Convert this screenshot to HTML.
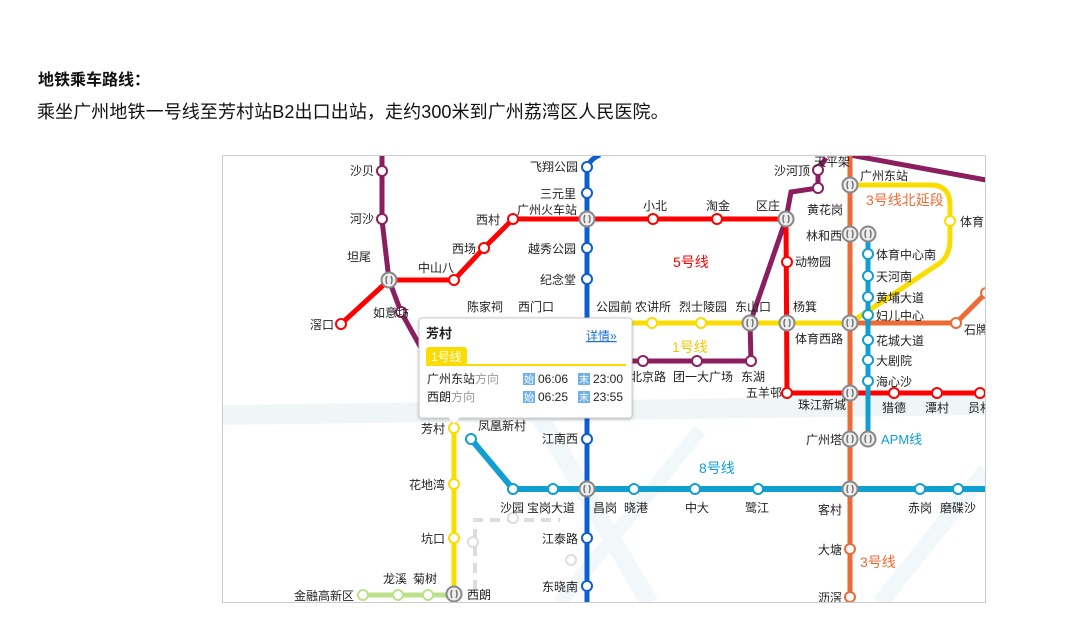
<!DOCTYPE html>
<html><head><meta charset="utf-8"><style>
html,body{margin:0;padding:0;background:#fff;width:1084px;height:643px;overflow:hidden}
body{font-family:"Liberation Sans","Noto Sans CJK SC",sans-serif;color:#111}
.t1{position:absolute;left:38px;top:66px;font-size:16px;font-weight:bold}
.t2{position:absolute;left:37px;top:98px;font-size:18px;white-space:nowrap;letter-spacing:0.1px}
svg{position:absolute;left:0;top:0}
svg text{font-family:"Liberation Sans","Noto Sans CJK SC",sans-serif;font-size:12px;fill:#222}
</style></head><body>
<div class="t1">地铁乘车路线：</div>
<div class="t2">乘坐广州地铁一号线至芳村站B2出口出站，走约300米到广州荔湾区人民医院。</div>
<svg width="1084" height="643" viewBox="0 0 1084 643">
<defs>
<clipPath id="c"><rect x="223" y="156" width="762" height="446"/></clipPath>
<filter id="sh" x="-10%" y="-10%" width="120%" height="130%"><feDropShadow dx="0" dy="1" stdDeviation="1.5" flood-color="#000" flood-opacity="0.25"/></filter>
<g id="ic"><circle r="7.5" fill="#eee" stroke="#888" stroke-width="2"/><path d="M-2,-4 q-2,4 0,8 M2,-4 q2,4 0,8" stroke="#777" stroke-width="1.5" fill="none"/></g>
</defs>
<g clip-path="url(#c)">
<path d="M223,415 L986,405" stroke="#f0f6f8" stroke-width="20" fill="none"/>
<path d="M530,400 L650,603" stroke="#f2f7f9" stroke-width="18" fill="none"/>
<path d="M700,430 L560,603" stroke="#f2f7f9" stroke-width="14" fill="none"/>
<path d="M880,603 L986,470" stroke="#f2f7f9" stroke-width="16" fill="none"/>
<path d="M475,590 L475,520 L560,520" stroke="#ddd" stroke-width="4" stroke-dasharray="10,7" fill="none"/>
<g fill="#fff" stroke="#ddd" stroke-width="2"><circle cx="513" cy="518" r="5"/><circle cx="473" cy="542" r="5"/><circle cx="571" cy="560" r="5"/></g>
<path d="M382,155 L382,220 L389,280 L401,312 L425,355" stroke="#8b1e5e" stroke-width="5" fill="none"/>
<path d="M620,361 L751,361 L750,323 L786,219 L791,192 L818,188 L818,170 L826,158" stroke="#8b1e5e" stroke-width="5" fill="none"/>
<path d="M850,155 L986,180" stroke="#8b1e5e" stroke-width="5" fill="none"/>
<path d="M600,155 Q588,160 587,170 L587,603" stroke="#0d5fd0" stroke-width="5" fill="none"/>
<path d="M341,324 L389,280 L454,280 L484,248 L513,219 L786,219 L787,393 L986,393" stroke="#f00" stroke-width="5" fill="none"/>
<path d="M850,155 L850,603" stroke="#ee6a35" stroke-width="5" fill="none"/>
<path d="M850,323 L956,323 L986,293" stroke="#ee6a35" stroke-width="5" fill="none"/>
<path d="M620,323 L850,323 L940,263 Q950,255 950,240 L950,205 Q950,185 930,185 L850,185" stroke="#fbdc00" stroke-width="5" fill="none"/>
<path d="M454,418 L454,594" stroke="#fbdc00" stroke-width="5" fill="none"/>
<path d="M868,234 L868,439" stroke="#109fd0" stroke-width="5" fill="none"/>
<path d="M471,439 L513,489 L986,489" stroke="#109fd0" stroke-width="6" fill="none"/>
<path d="M363,595 L454,595" stroke="#bde08a" stroke-width="5" fill="none"/>
<g fill="#fff" stroke-width="2">
<g stroke="#8b1e5e"><circle cx="382" cy="171" r="5"/><circle cx="382" cy="219" r="5"/><circle cx="401" cy="312" r="5"/><circle cx="643" cy="361" r="5"/><circle cx="697" cy="361" r="5"/><circle cx="751" cy="361" r="5"/><circle cx="818" cy="188" r="5"/><circle cx="818" cy="170" r="5"/></g>
<g stroke="#0d5fd0"><circle cx="587" cy="167" r="5"/><circle cx="587" cy="193" r="5"/><circle cx="587" cy="248" r="5"/><circle cx="587" cy="279" r="5"/><circle cx="587" cy="439" r="5"/><circle cx="587" cy="538" r="5"/><circle cx="587" cy="586" r="5"/></g>
<g stroke="#f00"><circle cx="341" cy="324" r="5"/><circle cx="454" cy="280" r="5"/><circle cx="484" cy="248" r="5"/><circle cx="513" cy="219" r="5"/><circle cx="653" cy="219" r="5"/><circle cx="717" cy="219" r="5"/><circle cx="787" cy="262" r="5"/><circle cx="787" cy="393" r="5"/><circle cx="894" cy="393" r="5"/><circle cx="937" cy="393" r="5"/><circle cx="980" cy="393" r="5"/></g>
<g stroke="#ee6a35"><circle cx="956" cy="323" r="5"/><circle cx="986" cy="293" r="5"/><circle cx="850" cy="549" r="5"/><circle cx="850" cy="597" r="5"/></g>
<g stroke="#fbdc00"><circle cx="652" cy="323" r="5"/><circle cx="701" cy="323" r="5"/><circle cx="950" cy="221" r="5"/><circle cx="454" cy="428" r="5"/><circle cx="454" cy="484" r="5"/><circle cx="454" cy="538" r="5"/></g>
<g stroke="#109fd0"><circle cx="868" cy="254" r="5"/><circle cx="868" cy="276" r="5"/><circle cx="868" cy="297" r="5"/><circle cx="868" cy="315" r="5"/><circle cx="868" cy="340" r="5"/><circle cx="868" cy="360" r="5"/><circle cx="868" cy="381" r="5"/><circle cx="471" cy="439" r="5"/><circle cx="513" cy="489" r="5"/><circle cx="553" cy="489" r="5"/><circle cx="634" cy="489" r="5"/><circle cx="695" cy="489" r="5"/><circle cx="758" cy="489" r="5"/><circle cx="920" cy="489" r="5"/><circle cx="958" cy="489" r="5"/></g>
<g stroke="#bde08a"><circle cx="363" cy="595" r="5"/><circle cx="398" cy="595" r="5"/><circle cx="428" cy="595" r="5"/></g>
</g>
<use href="#ic" x="389" y="280"/><use href="#ic" x="587" y="219"/><use href="#ic" x="786" y="219"/>
<use href="#ic" x="750" y="323"/><use href="#ic" x="787" y="323"/><use href="#ic" x="850" y="323"/>
<use href="#ic" x="850" y="185"/><use href="#ic" x="850" y="234"/><use href="#ic" x="868" y="234"/>
<use href="#ic" x="850" y="393"/><use href="#ic" x="850" y="439"/><use href="#ic" x="868" y="439"/>
<use href="#ic" x="587" y="489"/><use href="#ic" x="850" y="489"/><use href="#ic" x="454" y="594"/>
<g text-anchor="end">
<text x="374" y="175">沙贝</text><text x="374" y="223">河沙</text><text x="371" y="261">坦尾</text>
<text x="334" y="329">滘口</text><text x="409" y="317">如意坊</text>
<text x="578" y="171">飞翔公园</text><text x="576" y="198">三元里</text><text x="576" y="253">越秀公园</text><text x="576" y="284">纪念堂</text>
<text x="578" y="443">江南西</text><text x="578" y="543">江泰路</text><text x="578" y="591">东晓南</text>
<text x="500" y="224">西村</text><text x="476" y="253">西场</text>
<text x="810" y="175">沙河顶</text><text x="842" y="240">林和西</text><text x="842" y="444">广州塔</text><text x="842" y="514">客村</text><text x="842" y="554">大塘</text><text x="842" y="602">沥滘</text>
<text x="782" y="397">五羊邨</text>
<text x="445" y="433">芳村</text><text x="445" y="489">花地湾</text><text x="445" y="543">坑口</text><text x="354" y="600">金融高新区</text>
</g>
<text x="418" y="272">中山八</text><text x="467" y="311">陈家祠</text><text x="518" y="311">西门口</text>
<text x="517" y="214">广州火车站</text>
<text x="643" y="210">小北</text><text x="706" y="210">淘金</text><text x="756" y="210">区庄</text>
<text x="807" y="214">黄花岗</text><text x="814" y="166">天平架</text><text x="860" y="180">广州东站</text>
<text x="795" y="266">动物园</text><text x="793" y="311">杨箕</text><text x="795" y="343">体育西路</text>
<text x="596" y="311">公园前</text><text x="635" y="311">农讲所</text><text x="679" y="311">烈士陵园</text><text x="735" y="311">东山口</text>
<text x="630" y="381">北京路</text><text x="673" y="381">团一大广场</text><text x="741" y="381">东湖</text>
<text x="798" y="409">珠江新城</text><text x="882" y="412">猎德</text><text x="925" y="412">潭村</text><text x="968" y="412">员村</text>
<text x="960" y="226">体育</text><text x="964" y="334">石牌</text>
<text x="876" y="259">体育中心南</text><text x="876" y="281">天河南</text><text x="876" y="302">黄埔大道</text><text x="876" y="320">妇儿中心</text><text x="876" y="345">花城大道</text><text x="876" y="365">大剧院</text><text x="876" y="386">海心沙</text>
<text x="478" y="430">凤凰新村</text>
<text x="500" y="512">沙园</text><text x="527" y="512">宝岗大道</text><text x="593" y="512">昌岗</text><text x="624" y="512">晓港</text><text x="685" y="512">中大</text><text x="745" y="512">鹭江</text><text x="908" y="512">赤岗</text><text x="940" y="512">磨碟沙</text>
<text x="383" y="583">龙溪</text><text x="413" y="583">菊树</text><text x="467" y="599">西朗</text>
<text x="673" y="267" style="font-size:14px;fill:#f00">5号线</text>
<text x="672" y="352" style="font-size:14px;fill:#f0c800">1号线</text>
<text x="866" y="205" style="font-size:14px;fill:#ee6a35">3号线北延段</text>
<text x="699" y="473" style="font-size:14px;fill:#109fd0">8号线</text>
<text x="860" y="567" style="font-size:14px;fill:#ee6a35">3号线</text>
<text x="881" y="444" style="font-size:13px;fill:#109fd0">APM线</text>
<g filter="url(#sh)"><rect x="419" y="318" width="213" height="100" rx="3" fill="#fff" stroke="#ccc"/></g>
<path d="M448,417 L454,424 L460,417 Z" fill="#fff"/>
<text x="426" y="338" style="font-weight:bold;font-size:13px">芳村</text>
<text x="586" y="340" style="fill:#1a6fd0;text-decoration:underline">详情»</text>
<rect x="426" y="347" width="41" height="18" rx="3" fill="#fbdc00"/>
<line x1="426" y1="365" x2="626" y2="365" stroke="#fbdc00" stroke-width="2"/>
<text x="431" y="361" style="fill:#fff;font-size:12px">1号线</text>
<text x="427" y="383">广州东站<tspan fill="#999">方向</tspan></text>
<text x="427" y="401">西朗<tspan fill="#999">方向</tspan></text>
<rect x="523" y="373" width="12" height="12" fill="#6fb0e8"/><rect x="523" y="391" width="12" height="12" fill="#6fb0e8"/>
<rect x="578" y="373" width="12" height="12" fill="#6fb0e8"/><rect x="578" y="391" width="12" height="12" fill="#6fb0e8"/>
<text x="524" y="383" style="font-size:10px;fill:#fff">始</text><text x="524" y="401" style="font-size:10px;fill:#fff">始</text>
<text x="579" y="383" style="font-size:10px;fill:#fff">末</text><text x="579" y="401" style="font-size:10px;fill:#fff">末</text>
<text x="538" y="383">06:06</text><text x="538" y="401">06:25</text>
<text x="593" y="383">23:00</text><text x="593" y="401">23:55</text>
</g>
<rect x="222.5" y="155.5" width="763" height="447" fill="none" stroke="#ccc"/>
</svg>
</body></html>
